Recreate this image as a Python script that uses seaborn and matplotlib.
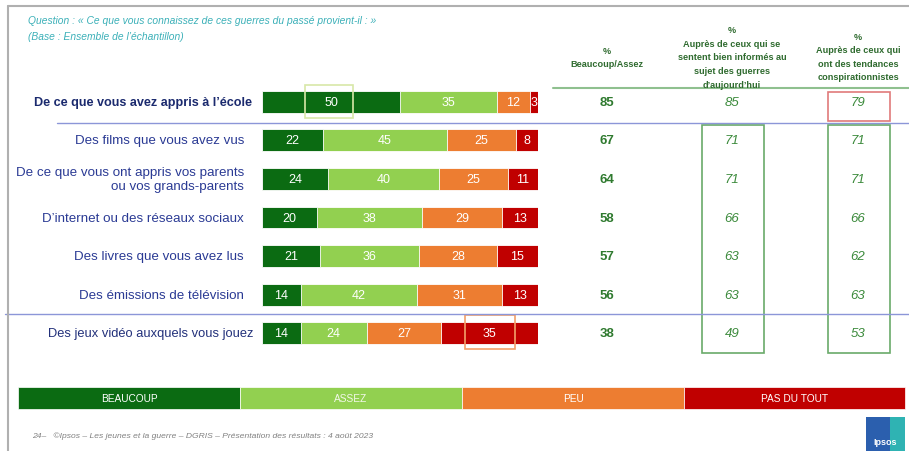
import numpy as np
import pandas as pd
import seaborn as sns
import matplotlib.pyplot as plt
from matplotlib.patches import Rectangle
from matplotlib.lines import Line2D
from matplotlib.transforms import blended_transform_factory

# data
categories = ["De ce que vous avez appris à l’école",
              "Des films que vous avez vus",
              "De ce que vous ont appris vos parents\nou vos grands-parents",
              "D’internet ou des réseaux sociaux",
              "Des livres que vous avez lus",
              "Des émissions de télévision",
              "Des jeux vidéo auxquels vous jouez"]
beaucoup = [50, 22, 24, 20, 21, 14, 14]
assez = [35, 45, 40, 38, 36, 42, 24]
peu = [12, 25, 25, 29, 28, 31, 27]
pas_du_tout = [3, 8, 11, 13, 15, 13, 35]
total_ba = [85, 67, 64, 58, 57, 56, 38]
informes = [85, 71, 71, 66, 63, 63, 49]
conspi = [79, 71, 71, 66, 62, 63, 53]
legend_labels = ["BEAUCOUP", "ASSEZ", "PEU", "PAS DU TOUT"]
colors = ["#0b6b12", "#92d050", "#ed7d31", "#c00000"]

W, H = 909, 452


def fx(x):
    return x / W


def fy(y):
    return 1 - y / H


sns.set_theme(style="white")
plt.rcParams["font.family"] = ["Liberation Sans", "DejaVu Sans"]

df = pd.DataFrame({"cat": categories, "b": beaucoup, "a": assez,
                   "p": peu, "n": pas_du_tout})
df["c1"] = df["b"]
df["c2"] = df["c1"] + df["a"]
df["c3"] = df["c2"] + df["p"]
df["c4"] = df["c3"] + df["n"]

fig = plt.figure(figsize=(W / 100, H / 100), dpi=100)
ax = fig.add_axes([fx(262), fy(353.5), fx(538) - fx(262), (353.5 - 83.5) / H])

# stacked bars: draw cumulative totals, longest first
for col, c in zip(["c4", "c3", "c2", "c1"], colors[::-1]):
    sns.barplot(data=df, x=col, y="cat", color=c, orient="h", width=0.57,
                edgecolor="white", linewidth=0.6, saturation=1, ax=ax)

ax.set_xlim(0, 100)
ax.set_ylim(6.5, -0.5)
ax.set_xlabel("")
ax.set_ylabel("")
ax.set_xticks([])
ax.set_yticks([])
sns.despine(ax=ax, left=True, bottom=True)

tr = blended_transform_factory(fig.transFigure, ax.transData)

# category labels (first and last ones are emphasised)
for i, lab in enumerate(categories):
    if i == 0:
        ax.text(fx(252), i, lab, transform=tr, ha="right", va="center",
                fontsize=9.1, fontweight="bold", color="#1b2a6e")
    elif i == len(categories) - 1:
        ax.text(fx(253), i, lab, transform=tr, ha="right", va="center",
                fontsize=9.3, color="#22307a")
    else:
        ax.text(fx(244), i, lab, transform=tr, ha="right", va="center",
                fontsize=9.6, color="#2a3a94", multialignment="right",
                linespacing=1.3)

# values inside segments
for i in range(len(categories)):
    left = 0
    for vals in [beaucoup, assez, peu, pas_du_tout]:
        v = vals[i]
        ax.text(left + v / 2, i, str(v), ha="center", va="center",
                color="white", fontsize=9)
        left += v

# right-hand columns
for i in range(len(categories)):
    ax.text(fx(607), i, str(total_ba[i]), transform=tr, ha="center", va="center",
            fontsize=9.5, fontweight="bold", color="#2f7a2f")
    ax.text(fx(732), i, str(informes[i]), transform=tr, ha="center", va="center",
            fontsize=9.5, fontstyle="italic", color="#3b8a3b")
    ax.text(fx(858), i, str(conspi[i]), transform=tr, ha="center", va="center",
            fontsize=9.5, fontstyle="italic", color="#3b8a3b")

hdr = dict(ha="center", va="center", fontsize=6.6, fontweight="bold",
           color="#2f6b2f", linespacing=1.65)
fig.text(fx(607), fy(58), "%\nBeaucoup/Assez", **hdr)
fig.text(fx(732), fy(58), "%\nAuprès de ceux qui se\nsentent bien informés au\nsujet des guerres\nd’aujourd’hui", **hdr)
fig.text(fx(858), fy(57.5), "%\nAuprès de ceux qui\nont des tendances\nconspirationnistes", **hdr)

# separator lines
fig.add_artist(Line2D([fx(553), fx(909)], [fy(89), fy(89)], color="#8fc08f", lw=1.5))
fig.add_artist(Line2D([fx(57), fx(909)], [fy(124), fy(124)], color="#8c96d8", lw=1))
fig.add_artist(Line2D([fx(5), fx(909)], [fy(315), fy(315)], color="#8c96d8", lw=1))


# highlight boxes
def box(x0, y0, x1, y1, ec, lw=1.2):
    fig.add_artist(Rectangle((fx(x0), fy(y1)), fx(x1) - fx(x0), fy(y0) - fy(y1),
                             fill=False, edgecolor=ec, lw=lw))


box(702, 126, 764, 354, "#6aaa6a")
box(828, 126, 890, 354, "#6aaa6a")
box(828, 93, 890, 122, "#e07a7a")
box(305, 86, 353, 119, "#d8e8a8")
box(465, 316, 515, 350, "#f2a06a")

# slide frame
fig.add_artist(Line2D([fx(8), fx(909)], [fy(7), fy(7)], color="#b0b0b0", lw=1.5))
fig.add_artist(Line2D([fx(8), fx(8)], [fy(7), fy(452)], color="#b0b0b0", lw=1.5))

# question
fig.text(fx(28), fy(21), "Question : « Ce que vous connaissez de ces guerres du passé provient-il : »",
         fontsize=7.4, fontstyle="italic", color="#3bb0b8", va="center")
fig.text(fx(28), fy(37), "(Base : Ensemble de l’échantillon)",
         fontsize=7.4, fontstyle="italic", color="#3bb0b8", va="center")

# legend strip
xs = [18, 240, 462, 684, 905]
for k, lab in enumerate(legend_labels):
    fig.add_artist(Rectangle((fx(xs[k]), fy(410)), fx(xs[k + 1]) - fx(xs[k]), fy(388) - fy(410),
                             facecolor=colors[k], edgecolor="white", lw=0.5))
    fig.text((fx(xs[k]) + fx(xs[k + 1])) / 2, fy(399), lab, ha="center", va="center",
             fontsize=7.3, color="white" if k != 1 else "#f2f8e8")

# footer
fig.text(fx(32), fy(436), "24–   ©Ipsos – Les jeunes et la guerre – DGRIS – Présentation des résultats : 4 août 2023",
         fontsize=6.1, fontstyle="italic", color="#808080", va="center")
fig.add_artist(Rectangle((fx(866), fy(452)), fx(905) - fx(866), fy(418) - fy(452),
                         facecolor="#2b5fae", edgecolor="none"))
fig.add_artist(Rectangle((fx(890), fy(452)), fx(905) - fx(890), fy(418) - fy(452),
                         facecolor="#2fb3b3", edgecolor="none"))
fig.text(fx(885), fy(443), "Ipsos", ha="center", va="center", fontsize=6.5,
         fontweight="bold", color="white")

fig.savefig("out.png", dpi=100)
